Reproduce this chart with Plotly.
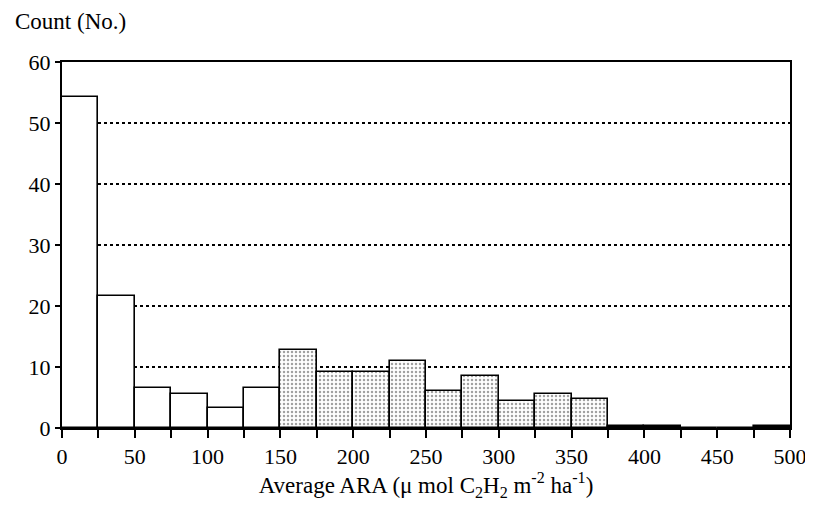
import plotly.graph_objects as go

# histogram bins (lower edge, width 25) and counts
bin_start = [0, 25, 50, 75, 100, 125, 150, 175, 200, 225,
             250, 275, 300, 325, 350, 375, 400, 425, 450, 475]
counts = [54.2, 21.6, 6.5, 5.6, 3.2, 6.6, 12.8, 9.2, 9.2, 11.0,
          6.1, 8.6, 4.4, 5.6, 4.8, 0.4, 0.4, 0, 0, 0.4]
bin_width = 25

x_ticks = [0, 25, 50, 75, 100, 125, 150, 175, 200, 225, 250,
           275, 300, 325, 350, 375, 400, 425, 450, 475, 500]
x_labels = ["0", "", "50", "", "100", "", "150", "", "200", "", "250",
            "", "300", "", "350", "", "400", "", "450", "", "500"]
y_ticks = [0, 10, 20, 30, 40, 50, 60]

FONT = "Liberation Serif"

centers = [s + bin_width / 2 for s in bin_start]
fills = []
shapes = []
for s, c in zip(bin_start, counts):
    if s >= 375:
        fills.append("black")
        shapes.append("")
    elif s >= 150:
        fills.append("white")
        shapes.append(".")
    else:
        fills.append("white")
        shapes.append("")

fig = go.Figure()
fig.add_bar(
    x=centers,
    y=counts,
    width=bin_width,
    marker={
        "color": fills,
        "line": {"color": "black", "width": 1.6},
        "pattern": {
            "shape": shapes,
            "fgcolor": "#555555",
            "bgcolor": "white",
            "size": 4,
            "solidity": 0.3,
            "fillmode": "overlay",
        },
    },
    showlegend=False,
)

fig.add_annotation(
    text="Count (No.)",
    xref="paper",
    yref="paper",
    x=-0.066,
    y=1.147,
    xanchor="left",
    yanchor="top",
    borderpad=0,
    showarrow=False,
    font={"family": FONT, "size": 23, "color": "black"},
)

fig.update_xaxes(
    range=[0, 500],
    tickvals=x_ticks,
    ticktext=x_labels,
    ticks="outside",
    ticklen=8,
    tickwidth=1.5,
    tickcolor="black",
    showline=True,
    linecolor="black",
    linewidth=2,
    mirror=True,
    showgrid=False,
    zeroline=False,
    tickfont={"family": FONT, "size": 22, "color": "black"},
    title={
        "text": "Average ARA (\u03bc mol C<sub>2</sub>H<sub>2</sub> m<sup>-2</sup> ha<sup>-1</sup>)",
        "font": {"family": FONT, "size": 23, "color": "black"},
        "standoff": 5,
    },
)
fig.update_yaxes(
    range=[0, 60],
    tickvals=y_ticks,
    ticks="outside",
    ticklen=5,
    tickwidth=1.5,
    tickcolor="black",
    showline=True,
    linecolor="black",
    linewidth=2,
    mirror=True,
    showgrid=True,
    gridcolor="black",
    gridwidth=1.5,
    griddash="dot",
    zeroline=False,
    tickfont={"family": FONT, "size": 22, "color": "black"},
)

# the page body adds an 8px margin, so the figure is 8px smaller
fig.update_layout(
    template="none",
    width=805,
    height=515,
    margin={"l": 54, "r": 23, "t": 54, "b": 95, "autoexpand": False},
    paper_bgcolor="white",
    plot_bgcolor="white",
    bargap=0,
    font={"family": FONT, "color": "black"},
)

fig.write_html("out.html")
